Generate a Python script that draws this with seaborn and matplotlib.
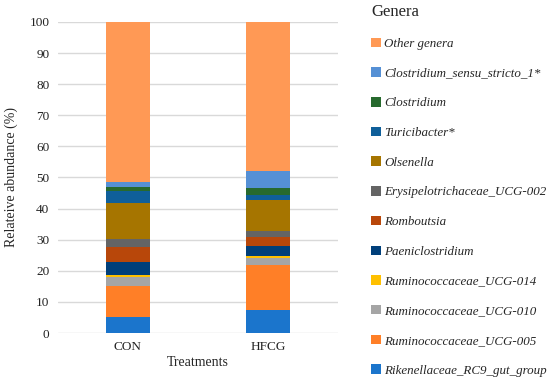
import numpy as np
import pandas as pd
import seaborn as sns
import matplotlib.pyplot as plt
from matplotlib.patches import Patch

# -------------------- Data (bottom to top of each stack) --------------------
treatments = ['CON', 'HFCG']
genera = ['Rikenellaceae_RC9_gut_group', 'Ruminococcaceae_UCG-005', 'Ruminococcaceae_UCG-010',
          'Ruminococcaceae_UCG-014', 'Paeniclostridium', 'Romboutsia',
          'Erysipelotrichaceae_UCG-002', 'Olsenella', 'Turicibacter*', 'Clostridium',
          'Clostridium_sensu_stricto_1*', 'Other genera']
con = [5.3, 9.7, 3.0, 0.6, 4.3, 4.7, 2.5, 11.7, 4.0, 1.0, 1.9, 51.3]
hfcg = [7.3, 14.7, 2.1, 0.8, 3.1, 2.8, 1.9, 10.2, 1.5, 2.2, 5.5, 47.9]
colors = ['#1B75CC', '#FF7F27', '#A5A5A5', '#FFC000', '#003F7A', '#B8470A',
          '#646464', '#A67500', '#0F5F9A', '#276A2E', '#5590D5', '#FF9955']

df = pd.DataFrame({'CON': con, 'HFCG': hfcg}, index=genera)
cum = df.cumsum()

# -------------------- Plot --------------------
sns.set_style('white')
plt.rcParams['font.family'] = ['Liberation Serif', 'DejaVu Serif']

fig = plt.figure(figsize=(5.5, 3.85), dpi=100)
ax = fig.add_axes([0.105, 0.135, 0.51, 0.808])

# stacked bars: draw cumulative totals from the top layer down
for g, c in zip(genera[::-1], colors[::-1]):
    d = pd.DataFrame({'Treatments': treatments, 'value': cum.loc[g].values})
    sns.barplot(data=d, x='Treatments', y='value', color=c, width=0.314,
                saturation=1, ax=ax, zorder=3, linewidth=0)

ax.set_ylim(0, 100)
ax.set_xlim(-0.5, 1.5)
ax.set_yticks(np.arange(0, 101, 10))
ax.yaxis.grid(True, color='#D9D9D9', linewidth=1, zorder=0)
ax.set_axisbelow(True)
for s in ax.spines.values():
    s.set_visible(False)
ax.tick_params(axis='both', length=0, labelsize=9.5, colors='#222222', pad=6)
ax.set_ylabel('Relateive abundance (%)', fontsize=10, labelpad=8)
ax.set_xlabel('Treatments', fontsize=10, labelpad=2)

handles = [Patch(facecolor=c, edgecolor='none') for c in colors[::-1]]
leg = fig.legend(handles, genera[::-1], loc='upper left', bbox_to_anchor=(0.656, 1.016),
                 frameon=False, title='Genera', prop={'style': 'italic', 'size': 9.4},
                 handlelength=0.75, handleheight=0.75, handletextpad=0.25, labelspacing=1.33,
                 borderpad=0.3, alignment='left')
leg.get_title().set_fontsize(12)

plt.savefig('out.png', dpi=100)
